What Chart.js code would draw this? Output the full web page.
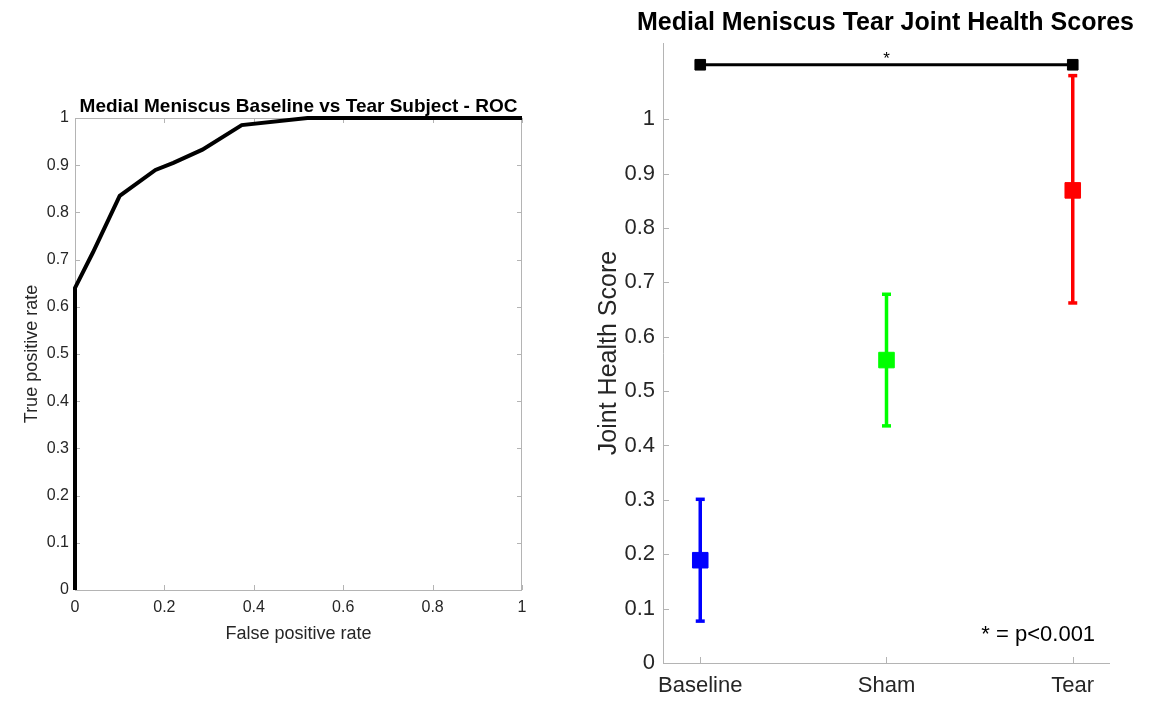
<!DOCTYPE html>
<html>
<head>
<meta charset="utf-8">
<script src="https://cdn.jsdelivr.net/npm/chart.js@4.4.0/dist/chart.umd.min.js"></script>
<style>
  html, body { margin: 0; padding: 0; background: #fff; }
  #wrap { position: relative; width: 1171px; height: 701px; overflow: hidden; }
  canvas { position: absolute; top: 0; }
</style>
</head>
<body>
<div id="wrap">
  <canvas id="roc" style="left:0px"></canvas>
  <canvas id="scores" style="left:590px"></canvas>
</div>
<script>
// ---- ROC curve
const rocFpr = [0, 0, 0.04, 0.10, 0.18, 0.22, 0.285, 0.373, 0.52, 1];
const rocTpr = [0, 0.64, 0.715, 0.835, 0.89, 0.905, 0.933, 0.985, 1, 1];
const rocXTicks = [0, 0.2, 0.4, 0.6, 0.8, 1];
const rocYTicks = [0, 0.1, 0.2, 0.3, 0.4, 0.5, 0.6, 0.7, 0.8, 0.9, 1];

// ---- joint health scores
const groups = ['Baseline', 'Sham', 'Tear'];
const scoreMean = [0.189, 0.557, 0.869];
const scoreLow = [0.077, 0.436, 0.662];
const scoreHigh = [0.301, 0.678, 1.08];
const groupColors = ['#0000ff', '#00ff00', '#ff0000'];
const scoreYTicks = [0, 0.1, 0.2, 0.3, 0.4, 0.5, 0.6, 0.7, 0.8, 0.9, 1];
const sigPair = [1, 3];   // Baseline vs Tear
const sigLevel = 1.1;
const sigNote = '* = p<0.001';

const FONT = '"Liberation Sans", Arial, sans-serif';
const AXIS_GREY = '#b4b4b4';
const TEXT_GREY = '#262626';

// matlab style axes: thin grey frame and inward ticks, plus bold title
const matlabAxes = {
  id: 'matlabAxes',
  beforeDatasetsDraw(chart, args, opts) {
    const ctx = chart.ctx, a = chart.chartArea;
    const sx = chart.scales.x, sy = chart.scales.y;
    ctx.save();
    ctx.strokeStyle = AXIS_GREY;
    ctx.lineWidth = 1;
    ctx.beginPath();
    ctx.moveTo(a.left + 0.5, a.top);
    ctx.lineTo(a.left + 0.5, a.bottom + 0.5);
    ctx.lineTo(a.right, a.bottom + 0.5);
    if (opts.box) {
      ctx.moveTo(a.left, a.top + 0.5);
      ctx.lineTo(a.right - 0.5, a.top + 0.5);
      ctx.lineTo(a.right - 0.5, a.bottom);
    }
    const tl = opts.tickLen;
    sx.ticks.forEach(t => {
      const px = Math.round(sx.getPixelForValue(t.value)) + 0.5;
      ctx.moveTo(px, a.bottom);
      ctx.lineTo(px, a.bottom - tl);
      if (opts.box) {
        ctx.moveTo(px, a.top);
        ctx.lineTo(px, a.top + tl);
      }
    });
    sy.ticks.forEach(t => {
      const py = Math.round(sy.getPixelForValue(t.value)) + 0.5;
      ctx.moveTo(a.left, py);
      ctx.lineTo(a.left + tl, py);
      if (opts.box) {
        ctx.moveTo(a.right, py);
        ctx.lineTo(a.right - tl, py);
      }
    });
    ctx.stroke();
    ctx.restore();
  },
  afterDraw(chart, args, opts) {
    const ctx = chart.ctx, a = chart.chartArea;
    ctx.save();
    ctx.fillStyle = '#000';
    ctx.font = 'bold ' + opts.titleSize + 'px ' + FONT;
    ctx.textAlign = 'center';
    ctx.textBaseline = 'alphabetic';
    ctx.fillText(opts.title, (a.left + a.right) / 2 + (opts.titleShift || 0), a.top - opts.titleGap);
    ctx.restore();
  }
};

// star over the significance bar and the p-value note
const sigText = {
  id: 'sigText',
  afterDatasetsDraw(chart) {
    const ctx = chart.ctx, sx = chart.scales.x, sy = chart.scales.y;
    ctx.save();
    ctx.fillStyle = '#000';
    ctx.textAlign = 'center';
    ctx.textBaseline = 'alphabetic';
    ctx.font = '17px ' + FONT;
    ctx.fillText('*', sx.getPixelForValue((sigPair[0] + sigPair[1]) / 2), sy.getPixelForValue(sigLevel) - 1);
    ctx.font = '22px ' + FONT;
    ctx.textAlign = 'right';
    ctx.textBaseline = 'middle';
    ctx.fillStyle = '#000';
    ctx.fillText(sigNote, sx.getPixelForValue(3.12), sy.getPixelForValue(0.051));
    ctx.restore();
  }
};

function fixedTicks(list) {
  return s => { s.ticks = list.map(v => ({ value: v })); };
}

window.onload = function () {
  // ---------------- left: ROC
  const c1 = document.getElementById('roc');
  c1.width = 590; c1.height = 701;
  new Chart(c1, {
    type: 'line',
    data: {
      datasets: [{
        data: rocFpr.map((x, i) => ({ x: x, y: rocTpr[i] })),
        borderColor: '#000',
        borderWidth: 4,
        pointRadius: 0,
        tension: 0,
        clip: false
      }]
    },
    options: {
      responsive: false,
      animation: false,
      events: [],
      layout: { padding: { left: 15, right: 68, top: 118, bottom: 51 } },
      plugins: {
        legend: { display: false },
        tooltip: { enabled: false },
        matlabAxes: { box: true, tickLen: 5, title: 'Medial Meniscus Baseline vs Tear Subject - ROC', titleSize: 19, titleGap: 6 }
      },
      scales: {
        x: {
          type: 'linear', min: 0, max: 1,
          afterBuildTicks: fixedTicks(rocXTicks),
          afterFit: s => { s.height = 60; },
          grid: { display: false, drawTicks: false },
          border: { display: false },
          ticks: { color: TEXT_GREY, font: { family: FONT, size: 16 }, padding: 8, maxRotation: 0, callback: v => String(v) },
          title: { display: true, text: 'False positive rate', color: TEXT_GREY, font: { family: FONT, size: 18, lineHeight: 1 }, padding: { top: 0, bottom: 7 } }
        },
        y: {
          type: 'linear', min: 0, max: 1,
          afterBuildTicks: fixedTicks(rocYTicks),
          afterFit: s => { s.width = 60; },
          grid: { display: false, drawTicks: false },
          border: { display: false },
          ticks: { color: TEXT_GREY, font: { family: FONT, size: 16 }, padding: 6, callback: v => String(v) },
          title: { display: true, text: 'True positive rate', color: TEXT_GREY, font: { family: FONT, size: 18, lineHeight: 1 }, padding: { top: 8, bottom: 0 } }
        }
      }
    },
    plugins: [matlabAxes]
  });

  // ---------------- right: joint health scores
  const c2 = document.getElementById('scores');
  c2.width = 581; c2.height = 701;

  const sets = [];
  groups.forEach((g, i) => {
    sets.push({
      type: 'line',
      data: [{ x: i + 1, y: scoreLow[i] }, { x: i + 1, y: scoreHigh[i] }],
      borderColor: groupColors[i],
      borderWidth: 3.5,
      pointStyle: 'line',
      pointRadius: 4.5,
      pointBorderWidth: 3.5,
      pointBorderColor: groupColors[i],
      clip: false
    });
  });
  sets.push({
    type: 'scatter',
    data: groups.map((g, i) => ({ x: i + 1, y: scoreMean[i] })),
    pointStyle: 'rect',
    pointRadius: 11,
    backgroundColor: groupColors,
    borderColor: groupColors,
    borderWidth: 1,
    clip: false
  });
  sets.push({
    type: 'line',
    data: sigPair.map(x => ({ x: x, y: sigLevel })),
    borderColor: '#000',
    borderWidth: 3,
    pointStyle: 'rect',
    pointRadius: 7.5,
    pointBackgroundColor: '#000',
    pointBorderColor: '#000',
    pointBorderWidth: 1,
    clip: false
  });

  new Chart(c2, {
    type: 'scatter',
    data: { datasets: sets },
    options: {
      responsive: false,
      animation: false,
      events: [],
      layout: { padding: { left: 7, right: 61, top: 43, bottom: 0 } },
      plugins: {
        legend: { display: false },
        tooltip: { enabled: false },
        matlabAxes: { box: false, tickLen: 6, title: 'Medial Meniscus Tear Joint Health Scores', titleSize: 25, titleGap: 13, titleShift: -1 }
      },
      scales: {
        x: {
          type: 'linear', min: 0.8, max: 3.2,
          afterBuildTicks: fixedTicks([1, 2, 3]),
          afterFit: s => { s.height = 38; },
          grid: { display: false, drawTicks: false },
          border: { display: false },
          ticks: { color: TEXT_GREY, font: { family: FONT, size: 22 }, padding: 10, maxRotation: 0, callback: v => groups[v - 1] }
        },
        y: {
          type: 'linear', min: 0, max: 1.14,
          afterBuildTicks: fixedTicks(scoreYTicks),
          afterFit: s => { s.width = 66; },
          grid: { display: false, drawTicks: false },
          border: { display: false },
          ticks: { color: TEXT_GREY, font: { family: FONT, size: 22 }, padding: 8, callback: v => String(v) },
          title: { display: true, text: 'Joint Health Score', color: TEXT_GREY, font: { family: FONT, size: 25, lineHeight: 1 }, padding: { top: 0, bottom: 0 } }
        }
      }
    },
    plugins: [matlabAxes, sigText]
  });
};
</script>
</body>
</html>
